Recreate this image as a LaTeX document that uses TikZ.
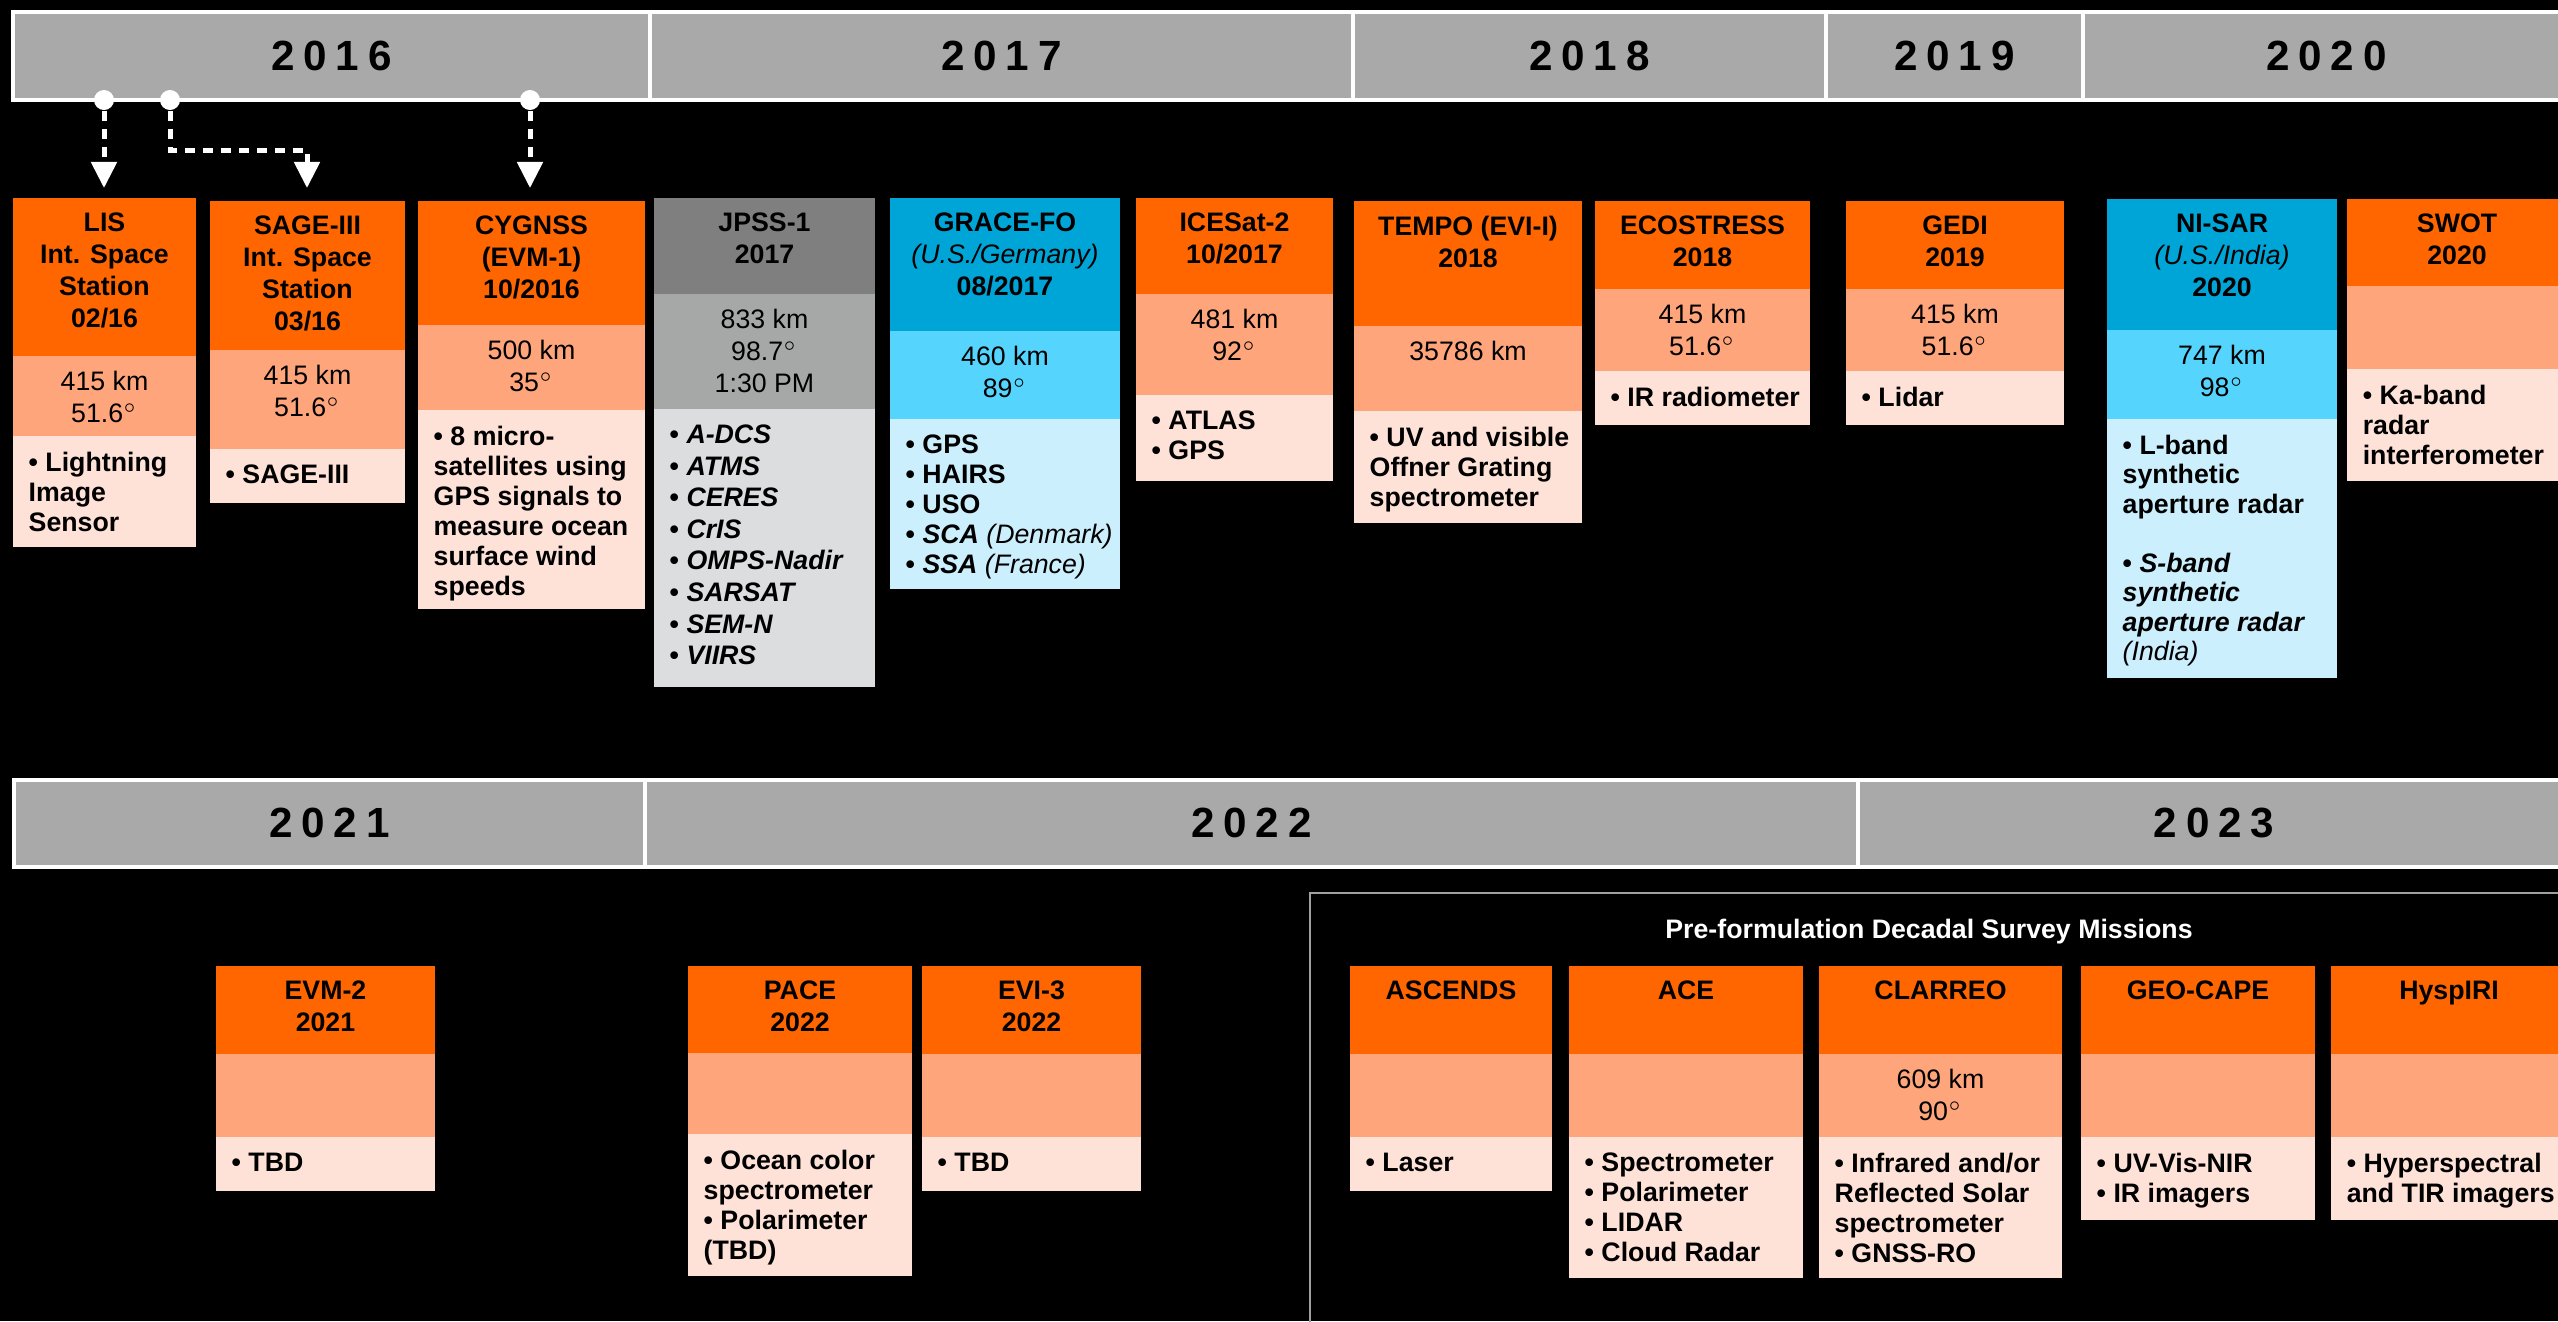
\documentclass[tikz,border=0pt]{standalone}
\usepackage{fontspec}
\setmainfont{Liberation Sans}
\newfontfamily\yearfont[LetterSpace=21]{Liberation Sans Bold}
\usetikzlibrary{arrows.meta}

\definecolor{ortop}{HTML}{FF6600}
\definecolor{ormid}{HTML}{FFA57B}
\definecolor{orlow}{HTML}{FEE2D7}
\definecolor{gytop}{HTML}{7F7F7F}
\definecolor{gymid}{HTML}{A6A8A7}
\definecolor{gylow}{HTML}{DCDDDF}
\definecolor{bltop}{HTML}{00A5D8}
\definecolor{blmid}{HTML}{55D5FD}
\definecolor{bllow}{HTML}{CCEFFD}
\definecolor{barGray}{HTML}{A9A9A9}
\definecolor{panelGray}{HTML}{A0A0A0}

\newcommand{\dg}{\ensuremath{^\circ}}

\tikzset{
  yearcell/.style={fill=barGray, draw=white, line width=0.04cm},
  yearlab/.style={font=\yearfont\fontsize{12}{14}\selectfont, text=black},
  head/.style={anchor=north, yshift=-0.14cm, align=center, inner sep=0pt,
    font=\bfseries\fontsize{7.6}{9.1}\selectfont},
  orbit/.style={anchor=north, yshift=-0.14cm, align=center, inner sep=0pt,
    font=\fontsize{7.6}{9.1}\selectfont},
  instr/.style={anchor=north west, xshift=0.15cm, yshift=-0.15cm, align=left,
    inner sep=0pt, font=\bfseries\fontsize{7.6}{8.55}\selectfont},
  dot/.style={circle, fill=white, inner sep=0pt, minimum size=0.2cm},
  drop/.style={white, line width=0.05cm, dash pattern=on 0.1cm off 0.08cm,
    -{Triangle[width=0.25cm,length=0.26cm]}},
  panel/.style={draw=panelGray, line width=0.02cm}
}

% three coloured bands of one mission: name, left, right, top, split, split, bottom, colours
\newcommand{\satbox}[8]{%
  \fill[#8top] (#2,#4) rectangle (#3,#5);
  \fill[#8mid] (#2,#5) rectangle (#3,#6);
  \fill[#8low] (#2,#6) rectangle (#3,#7);
  \coordinate (#1) at ({(#2+#3)/2},#4);
  \coordinate (#1-orb) at ({(#2+#3)/2},#5);
  \coordinate (#1-ins) at (#2,#6);
}

\begin{document}
\begin{tikzpicture}[x=0.01cm, y=-0.01cm]
\fill[black] (0,0) rectangle (2558,1321);
\clip (0,0) rectangle (2558,1321);

% year bars
\foreach \a/\b/\yr in {13/650/2016, 650/1353/2017, 1353/1826/2018, 1826/2083/2019, 2083/2570/2020} {
  \draw[yearcell] (\a,12) rectangle (\b,100);
  \node[yearlab] (yr\yr) at ({(\a+\b)/2},56) {\yr};
}
\foreach \a/\b/\yr in {14/645/2021, 645/1858/2022, 1858/2570/2023} {
  \draw[yearcell] (\a,780) rectangle (\b,867);
  \node[yearlab] (yr\yr) at ({(\a+\b)/2},823) {\yr};
}

% 2016 - 2020
\satbox{lis}{13}{196}{198}{356}{436}{547}{or}
\node[head] (lisHead) at (lis) {LIS\\Int. Space\\Station\\02/16};
\node[orbit] (lisOrb) at (lis-orb) {415 km\\51.6\dg};
\node[instr] (lisIns) at (lis-ins) {• Lightning\\Image\\Sensor};

\satbox{sage}{210}{405}{201}{350}{449}{503}{or}
\node[head] (sageHead) at (sage) {SAGE-III\\Int. Space\\Station\\03/16};
\node[orbit] (sageOrb) at (sage-orb) {415 km\\51.6\dg};
\node[instr] (sageIns) at (sage-ins) {• SAGE-III};

\satbox{cyg}{418}{645}{201}{325}{410}{609}{or}
\node[head] (cygHead) at (cyg) {CYGNSS\\(EVM-1)\\10/2016};
\node[orbit] (cygOrb) at (cyg-orb) {500 km\\35\dg};
\node[instr] (cygIns) at (cyg-ins) {• 8 micro-\\satellites using\\GPS signals to\\measure ocean\\surface wind\\speeds};

\satbox{jpss}{654}{875}{198}{294}{409}{687}{gy}
\node[head] (jpssHead) at (jpss) {JPSS-1\\2017};
\node[orbit] (jpssOrb) at (jpss-orb) {833 km\\98.7\dg\\1:30 PM};
\node[instr, font=\bfseries\fontsize{7.6}{9}\selectfont] (jpssIns) at (jpss-ins)
  {• \textit{A-DCS}\\• \textit{ATMS}\\• \textit{CERES}\\• \textit{CrIS}\\• \textit{OMPS-Nadir}\\• \textit{SARSAT}\\• \textit{SEM-N}\\• \textit{VIIRS}};

\satbox{grace}{890}{1120}{198}{331}{419}{589}{bl}
\node[head] (graceHead) at (grace) {GRACE-FO\\{\mdseries\itshape (U.S./Germany)}\\08/2017};
\node[orbit] (graceOrb) at (grace-orb) {460 km\\89\dg};
\node[instr] (graceIns) at (grace-ins)
  {• GPS\\• HAIRS\\• USO\\• \textit{SCA} {\mdseries\itshape (Denmark)}\\• \textit{SSA} {\mdseries\itshape (France)}};

\satbox{ice}{1136}{1333}{198}{294}{395}{481}{or}
\node[head] (iceHead) at (ice) {ICESat-2\\10/2017};
\node[orbit] (iceOrb) at (ice-orb) {481 km\\92\dg};
\node[instr] (iceIns) at (ice-ins) {• ATLAS\\• GPS};

\satbox{tempo}{1354}{1582}{201}{326}{411}{523}{or}
\node[head] (tempoHead) at (tempo) {TEMPO (EVI-I)\\2018};
\node[orbit] (tempoOrb) at (tempo-orb) {35786 km};
\node[instr] (tempoIns) at (tempo-ins) {• UV and visible\\Offner Grating\\spectrometer};

\satbox{eco}{1595}{1810}{201}{289}{371}{425}{or}
\node[head] (ecoHead) at (eco) {ECOSTRESS\\2018};
\node[orbit] (ecoOrb) at (eco-orb) {415 km\\51.6\dg};
\node[instr] (ecoIns) at (eco-ins) {• IR radiometer};

\satbox{gedi}{1846}{2064}{201}{289}{371}{425}{or}
\node[head] (gediHead) at (gedi) {GEDI\\2019};
\node[orbit] (gediOrb) at (gedi-orb) {415 km\\51.6\dg};
\node[instr] (gediIns) at (gedi-ins) {• Lidar};

\satbox{nisar}{2107}{2337}{199}{330}{419}{678}{bl}
\node[head] (nisarHead) at (nisar) {NI-SAR\\{\mdseries\itshape (U.S./India)}\\2020};
\node[orbit] (nisarOrb) at (nisar-orb) {747 km\\98\dg};
\node[instr, font=\bfseries\fontsize{7.6}{8.4}\selectfont] (nisarIns) at (nisar-ins)
  {• L-band\\synthetic\\aperture radar\\[8.4pt]• \textit{S-band}\\\textit{synthetic}\\\textit{aperture radar}\\{\mdseries\itshape (India)}};

\satbox{swot}{2347}{2567}{199}{286}{369}{481}{or}
\node[head] (swotHead) at (swot) {SWOT\\2020};
\node[instr] (swotIns) at (swot-ins) {• Ka-band\\radar\\interferometer};

% launch markers
\node[dot] (dotA) at (104,100) {};
\node[dot] (dotB) at (170,100) {};
\node[dot] (dotC) at (530,100) {};
\coordinate (lisTip) at (104,188);
\coordinate (sageTurn) at (307,150);
\coordinate (sageTip) at (307,188);
\coordinate (cygTip) at (530,188);
\draw[drop] (dotA) -- (lisTip);
\draw[drop] (dotB) |- (sageTurn) -- (sageTip);
\draw[drop] (dotC) -- (cygTip);

% 2021 - 2023
\satbox{evm}{216}{435}{966}{1054}{1137}{1191}{or}
\node[head] (evmHead) at (evm) {EVM-2\\2021};
\node[instr] (evmIns) at (evm-ins) {• TBD};

\satbox{pace}{688}{912}{966}{1053}{1134}{1276}{or}
\node[head] (paceHead) at (pace) {PACE\\2022};
\node[instr] (paceIns) at (pace-ins) {• Ocean color\\spectrometer\\• Polarimeter\\(TBD)};

\satbox{evi}{922}{1141}{966}{1054}{1137}{1191}{or}
\node[head] (eviHead) at (evi) {EVI-3\\2022};
\node[instr] (eviIns) at (evi-ins) {• TBD};

% decadal survey panel
\draw[panel] (1310,1330) -- (1310,893) -- (2570,893);
\node[font=\bfseries\fontsize{7.6}{9.1}\selectfont, text=white] (dsTitle) at (1929,932) {Pre-formulation Decadal Survey Missions};

\satbox{asc}{1350}{1552}{966}{1054}{1137}{1191}{or}
\node[head] (ascHead) at (asc) {ASCENDS};
\node[instr] (ascIns) at (asc-ins) {• Laser};

\satbox{ace}{1569}{1803}{966}{1054}{1137}{1278}{or}
\node[head] (aceHead) at (ace) {ACE};
\node[instr] (aceIns) at (ace-ins) {• Spectrometer\\• Polarimeter\\• LIDAR\\• Cloud Radar};

\satbox{clar}{1819}{2062}{966}{1054}{1137}{1278}{or}
\node[head] (clarHead) at (clar) {CLARREO};
\node[orbit] (clarOrb) at (clar-orb) {609 km\\90\dg};
\node[instr] (clarIns) at (clar-ins) {• Infrared and/or\\Reflected Solar\\spectrometer\\• GNSS-RO};

\satbox{geo}{2081}{2315}{966}{1054}{1137}{1220}{or}
\node[head] (geoHead) at (geo) {GEO-CAPE};
\node[instr] (geoIns) at (geo-ins) {• UV-Vis-NIR\\• IR imagers};

\satbox{hysp}{2331}{2567}{966}{1054}{1137}{1220}{or}
\node[head] (hyspHead) at (hysp) {HyspIRI};
\node[instr] (hyspIns) at (hysp-ins) {• Hyperspectral\\and TIR imagers};
\end{tikzpicture}
\end{document}
